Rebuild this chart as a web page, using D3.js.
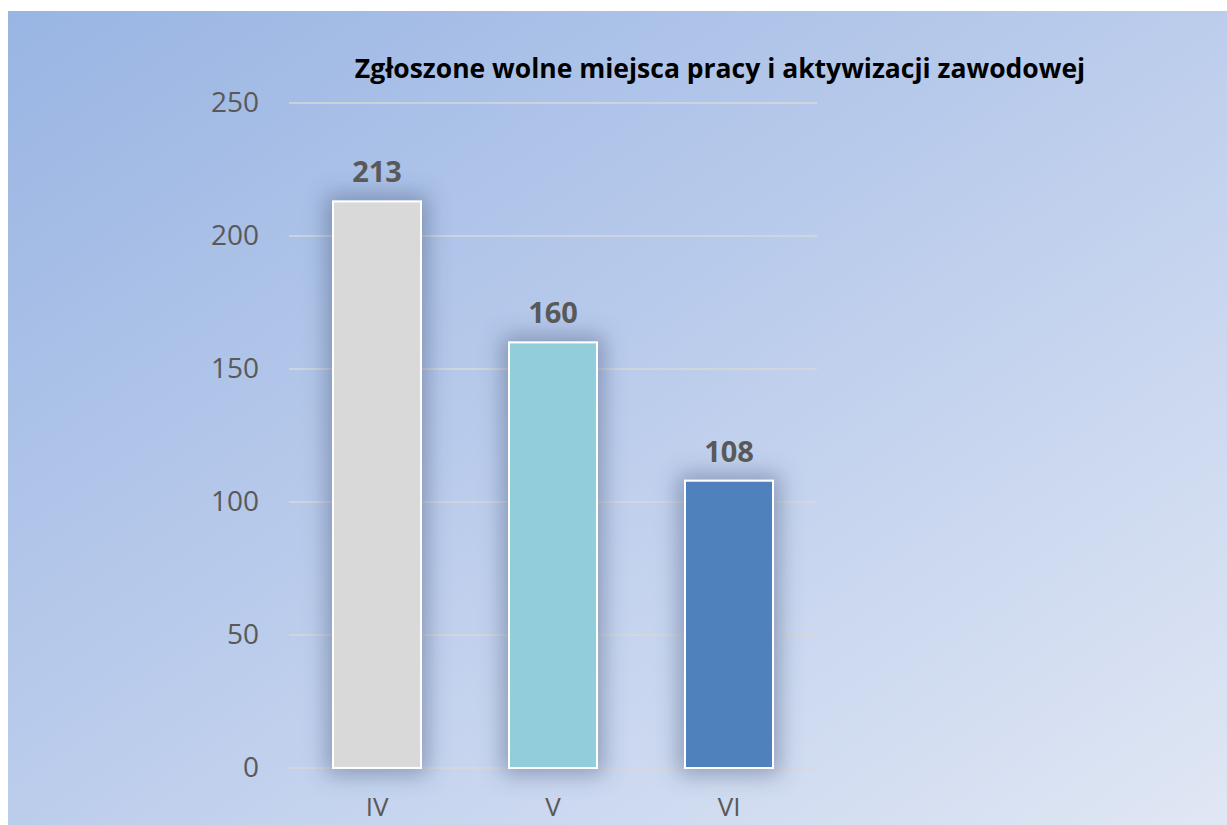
<!DOCTYPE html>
<html>
<head>
<meta charset="utf-8">
<script src="https://cdn.jsdelivr.net/npm/d3@7"></script>
<style>
  body { margin: 0; background: #fff; }
  svg { display: block; font-family: "Open Sans", "Noto Sans", sans-serif; }
</style>
</head>
<body>
<svg id="chart"></svg>
<script>
// Data
const months = ["IV", "V", "VI"];
const values = [213, 160, 108];
const barColors = ["#d9d9d9", "#92cddc", "#4f81bd"];
const yTicks = [0, 50, 100, 150, 200, 250];
const title = "Zgłoszone wolne miejsca pracy i aktywizacji zawodowej";

const W = 1227, H = 825;
const plot = { left: 289, right: 817, top: 103, bottom: 768 };

const svg = d3.select("#chart").attr("width", W).attr("height", H);
const defs = svg.append("defs");

// Background gradient
const grad = defs.append("linearGradient")
  .attr("id", "bg")
  .attr("x1", "0%").attr("y1", "0%")
  .attr("x2", "100%").attr("y2", "100%");
grad.append("stop").attr("offset", "0%").attr("stop-color", "#99b5e3");
grad.append("stop").attr("offset", "50%").attr("stop-color", "#bccdec");
grad.append("stop").attr("offset", "100%").attr("stop-color", "#e0e7f4");

// Soft shadow around bars
const shadow = defs.append("filter")
  .attr("id", "glow")
  .attr("x", "-60%").attr("y", "-25%")
  .attr("width", "220%").attr("height", "150%");
shadow.append("feMorphology").attr("in", "SourceAlpha").attr("operator", "dilate").attr("radius", 6).attr("result", "d");
shadow.append("feGaussianBlur").attr("in", "d").attr("stdDeviation", 11).attr("result", "b");
shadow.append("feFlood").attr("flood-color", "#44557a").attr("flood-opacity", 0.45).attr("result", "c");
shadow.append("feComposite").attr("in", "c").attr("in2", "b").attr("operator", "in").attr("result", "s");
const merge = shadow.append("feMerge");
merge.append("feMergeNode").attr("in", "s");
merge.append("feMergeNode").attr("in", "SourceGraphic");

svg.append("rect")
  .attr("x", 8).attr("y", 11)
  .attr("width", W - 8).attr("height", H - 11)
  .attr("fill", "url(#bg)");

// Scales
const x = d3.scaleBand()
  .domain(months)
  .range([plot.left, plot.right])
  .paddingInner(0.5)
  .paddingOuter(0.25);

const y = d3.scaleLinear()
  .domain([0, 250])
  .range([plot.bottom, plot.top]);

// Gridlines
svg.append("g")
  .selectAll("line")
  .data(yTicks)
  .enter()
  .append("line")
  .attr("x1", plot.left)
  .attr("x2", plot.right)
  .attr("y1", d => y(d))
  .attr("y2", d => y(d))
  .attr("stroke", "#d9d9d9")
  .attr("stroke-width", 1.5);

// Y axis labels
const yAxis = svg.append("g")
  .attr("transform", "translate(" + (plot.left - 30) + ",0)")
  .call(d3.axisLeft(y).tickValues(yTicks).tickSize(0).tickPadding(0));
yAxis.select(".domain").remove();
yAxis.selectAll("text")
  .attr("fill", "#595959")
  .style("font-size", "28px")
  .style("font-family", "'Open Sans', sans-serif");

// X axis labels
const xAxis = svg.append("g")
  .attr("transform", "translate(0," + plot.bottom + ")")
  .call(d3.axisBottom(x).tickSize(0).tickPadding(30));
xAxis.select(".domain").remove();
xAxis.selectAll("text")
  .attr("fill", "#595959")
  .style("font-size", "26px")
  .style("font-family", "'Open Sans', sans-serif");

// Bars
svg.append("g")
  .selectAll("rect")
  .data(values)
  .enter()
  .append("rect")
  .attr("x", (d, i) => x(months[i]))
  .attr("y", d => y(d))
  .attr("width", x.bandwidth())
  .attr("height", d => y(0) - y(d))
  .attr("fill", (d, i) => barColors[i])
  .attr("stroke", "#ffffff")
  .attr("stroke-width", 2)
  .attr("filter", "url(#glow)");

// Value labels
svg.append("g")
  .selectAll("text")
  .data(values)
  .enter()
  .append("text")
  .attr("x", (d, i) => x(months[i]) + x.bandwidth() / 2)
  .attr("y", d => y(d) - 19)
  .attr("text-anchor", "middle")
  .attr("fill", "#595959")
  .style("font-size", "29px")
  .style("font-weight", "bold")
  .text(d => d);

// Title
svg.append("text")
  .attr("x", 720)
  .attr("y", 78)
  .attr("text-anchor", "middle")
  .attr("fill", "#000")
  .style("font-size", "26.5px")
  .style("font-weight", "bold")
  .text(title);
</script>
</body>
</html>
